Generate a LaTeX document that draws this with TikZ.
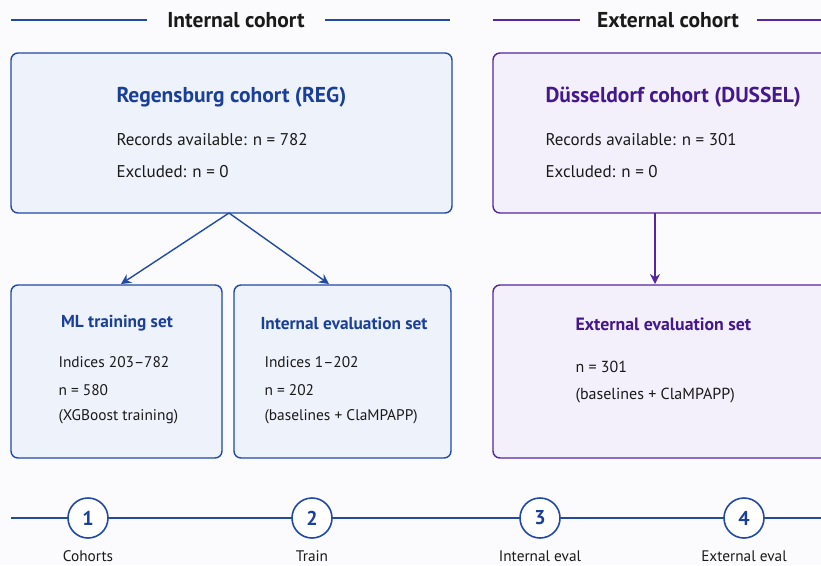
\documentclass[tikz,border=0pt]{standalone}
\usepackage{fontspec}
\setmainfont{PT Sans}
\usetikzlibrary{arrows.meta}
\definecolor{cblue}{HTML}{2149A6}
\definecolor{tblue}{HTML}{1A3F99}
\definecolor{cpurp}{HTML}{5526A0}
\definecolor{tpurp}{HTML}{44188C}
\definecolor{fblue}{HTML}{EEF2FB}
\definecolor{fpurp}{HTML}{F3F0FB}
\definecolor{bg}{HTML}{FBFBFD}
\definecolor{txt}{HTML}{1A1A1A}
\tikzset{
  bbox/.style={draw=cblue, fill=fblue, line width=1.4pt, rounded corners=7pt},
  pbox/.style={draw=cpurp, fill=fpurp, line width=1.4pt, rounded corners=7pt},
  hdr/.style={font=\fontsize{21.5}{24}\selectfont\bfseries, text=txt},
  btitle/.style={font=\fontsize{21.5}{24}\selectfont\bfseries, text=tblue},
  ptitle/.style={font=\fontsize{21.5}{24}\selectfont\bfseries, text=tpurp},
  sbtitle/.style={font=\fontsize{17.3}{20}\selectfont\bfseries, text=tblue},
  sptitle/.style={font=\fontsize{17.8}{20}\selectfont\bfseries, text=tpurp},
  body/.style={font=\fontsize{17}{20}\selectfont, text=txt, anchor=west},
  sbody/.style={font=\fontsize{15.4}{18}\selectfont, text=txt, anchor=west},
  pbody/.style={font=\fontsize{16}{18}\selectfont, text=txt, anchor=west},
  conn/.style={line width=1.4pt, -{Stealth[length=10pt,width=10pt]}},
  stepc/.style={circle, draw=cblue, fill=white, line width=1.6pt, minimum size=40pt, inner sep=0pt, font=\fontsize{20}{22}\selectfont\bfseries, text=tblue},
  steplab/.style={font=\fontsize{15.3}{17}\selectfont, text=txt},
}
\begin{document}
\begin{tikzpicture}[x=1pt,y=-1pt]
\useasboundingbox (0,0) rectangle (821,565);
\clip (0,0) rectangle (821,565);
\fill[bg] (0,0) rectangle (821,565);
% headers
\node[hdr] (hint) at (236,20) {Internal cohort};
\coordinate (hl1) at (11,20); \coordinate (hl2) at (147,20);
\coordinate (hl3) at (325,20); \coordinate (hl4) at (450,20);
\draw[cblue, line width=1.4pt] (hl1) -- (hl2) (hl3) -- (hl4);
\node[hdr] (hext) at (668,20) {External cohort};
\coordinate (pl1) at (493,20); \coordinate (pl2) at (580,20);
\coordinate (pl3) at (757,20); \coordinate (pl4) at (830,20);
\draw[cpurp, line width=1.4pt] (pl1) -- (pl2) (pl3) -- (pl4);
% boxes
\draw[bbox] (11,53) rectangle (452,213);
\node[btitle, anchor=west] (tREG) at (113,97) {Regensburg cohort (REG)};
\node[body] (rREG) at (113,140) {Records available: n = 782};
\node[body] (eREG) at (113,172) {Excluded: n = 0};
\draw[pbox] (493,53) rectangle (840,213);
\node[ptitle, anchor=west] (tDUS) at (542,97) {Düsseldorf cohort (DUSSEL)};
\node[body] (rDUS) at (542,140) {Records available: n = 301};
\node[body] (eDUS) at (542,172) {Excluded: n = 0};
\draw[bbox] (11,285) rectangle (222,458);
\node[sbtitle] (tML) at (117,323) {ML training set};
\node[sbody] (iML) at (55,362) {Indices 203–782};
\node[sbody] (nML) at (55,390) {n = 580};
\node[sbody] (xML) at (55,417) {(XGBoost training)};
\draw[bbox] (234,285) rectangle (451,458);
\node[sbtitle] (tIE) at (344,323) {Internal evaluation set};
\node[sbody] (iIE) at (261,362) {Indices 1–202};
\node[sbody] (nIE) at (261,390) {n = 202};
\node[sbody] (bIE) at (261,417) {(baselines + ClaMPAPP)};
\draw[pbox] (493,285) rectangle (840,458);
\node[sptitle, anchor=west] (tEE) at (572,324) {External evaluation set};
\node[pbody] (nEE) at (572,367) {n = 301};
\node[pbody] (bEE) at (572,396) {(baselines + ClaMPAPP)};
% connectors
\coordinate (regb) at (229,213);
\coordinate (mlt) at (121,284);
\coordinate (iet) at (329,284);
\coordinate (dusb) at (655,213);
\coordinate (eet) at (655,284);
\draw[conn, cblue] (regb) -- (mlt);
\draw[conn, cblue] (regb) -- (iet);
\draw[conn, cpurp] (dusb) -- (eet);
% timeline
\coordinate (tl0) at (11,518); \coordinate (tl1) at (830,518);
\draw[cblue, line width=1.4pt] (tl0) -- (tl1);
\node[stepc] (s1) at (88,518) {1};
\node[stepc] (s2) at (312,518) {2};
\node[stepc] (s3) at (540,518) {3};
\node[stepc] (s4) at (744,518) {4};
\node[steplab] (l1) at (88,556) {Cohorts};
\node[steplab] (l2) at (312,556) {Train};
\node[steplab] (l3) at (540,556) {Internal eval};
\node[steplab] (l4) at (744,556) {External eval};
\end{tikzpicture}
\end{document}
